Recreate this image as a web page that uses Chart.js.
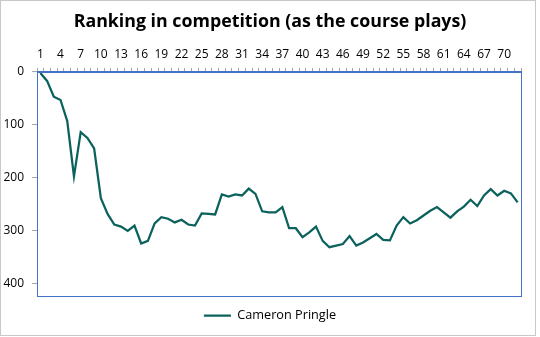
<!DOCTYPE html>
<html>
<head>
<meta charset="utf-8">
<script src="https://cdn.jsdelivr.net/npm/chart.js@4"></script>
<style>
  html, body { margin: 0; padding: 0; background: #fff; }
  #wrap { width: 540px; height: 337px; }
</style>
</head>
<body>
<div id="wrap"><canvas id="rank" width="540" height="337"></canvas></div>
<script>
// holes 1..72
const holes = [];
for (let i = 1; i <= 72; i++) holes.push(String(i));

// ranking after each hole
const ranking = [
    2, 17, 47, 53, 93, 198, 114, 125, 145, 239,
    269, 289, 293, 301, 291, 325, 320, 287, 275, 278,
    285, 280, 289, 291, 268, 269, 270, 232, 236, 232,
    234, 221, 231, 264, 266, 266, 256, 296, 296, 313,
    304, 293, 320, 332, 329, 326, 311, 329, 323, 315,
    307, 318, 319, 291, 275, 287, 281, 272, 263, 256,
    266, 276, 264, 255, 242, 254, 234, 222, 234, 225,
    230, 247
];

const yTicks = [0, 100, 200, 300, 400];

const fontName = "'Open Sans', 'Noto Sans', sans-serif";
const blue = '#4472c4';
const tickGray = '#a6a6a6';

// frame round the plot area and round the whole chart
const framePlugin = {
    id: 'frame',
    afterDraw(chart) {
        const ctx = chart.ctx;
        const a = chart.chartArea;
        ctx.save();
        ctx.strokeStyle = blue;
        ctx.lineWidth = 1;
        ctx.strokeRect(Math.round(a.left) + 0.5, Math.round(a.top) + 0.5,
            Math.round(a.right - a.left), Math.round(a.bottom - a.top));
        ctx.strokeStyle = '#c8c8c8';
        ctx.strokeRect(0.5, 0.5, 535, 335);
        ctx.restore();
    }
};

new Chart(document.getElementById('rank'), {
    type: 'line',
    data: {
        labels: holes,
        datasets: [{
            label: 'Cameron Pringle',
            data: ranking,
            borderColor: '#0b625c',
            backgroundColor: '#0b625c',
            borderWidth: 2.25,
            pointRadius: 0,
            tension: 0
        }]
    },
    options: {
        responsive: false,
        animation: false,
        layout: { padding: { left: 0, right: 0, top: 11, bottom: 5 } },
        plugins: {
            title: {
                display: true,
                text: 'Ranking in competition (as the course plays)',
                color: '#000',
                font: { family: fontName, size: 17.8, weight: 'bold' },
                padding: { top: 0, bottom: 6 }
            },
            legend: {
                position: 'bottom',
                labels: {
                    color: '#000',
                    font: { family: fontName, size: 12.7 },
                    usePointStyle: true,
                    pointStyle: 'line',
                    pointStyleWidth: 27,
                    padding: 13
                }
            },
            tooltip: { enabled: false }
        },
        scales: {
            x: {
                position: 'top',
                offset: true,
                grid: {
                    offset: true,
                    drawOnChartArea: false,
                    drawTicks: true,
                    tickLength: 4,
                    color: tickGray
                },
                border: { color: blue },
                ticks: {
                    autoSkip: false,
                    maxRotation: 0,
                    padding: 6,
                    color: '#000',
                    font: { family: fontName, size: 12 },
                    callback: (v, i) => (i % 3 === 0 ? holes[i] : '')
                },
                afterFit: (s) => { s.height = 33.6; }
            },
            y: {
                reverse: true,
                min: 0,
                max: 425,
                grid: {
                    drawOnChartArea: false,
                    drawTicks: true,
                    tickLength: 5,
                    color: tickGray
                },
                border: { color: blue },
                ticks: {
                    padding: 8,
                    color: '#000',
                    font: { family: fontName, size: 12 }
                },
                afterBuildTicks: (s) => { s.ticks = yTicks.map(v => ({ value: v })); },
                afterFit: (s) => { s.width = 37; }
            },
            // empty strip on the right, keeps title and legend centred on the page
            yRight: {
                position: 'right',
                min: 0,
                max: 425,
                grid: { display: false },
                border: { display: false },
                ticks: { display: false },
                afterFit: (s) => { s.width = 19; }
            }
        }
    },
    plugins: [framePlugin]
});
</script>
</body>
</html>
